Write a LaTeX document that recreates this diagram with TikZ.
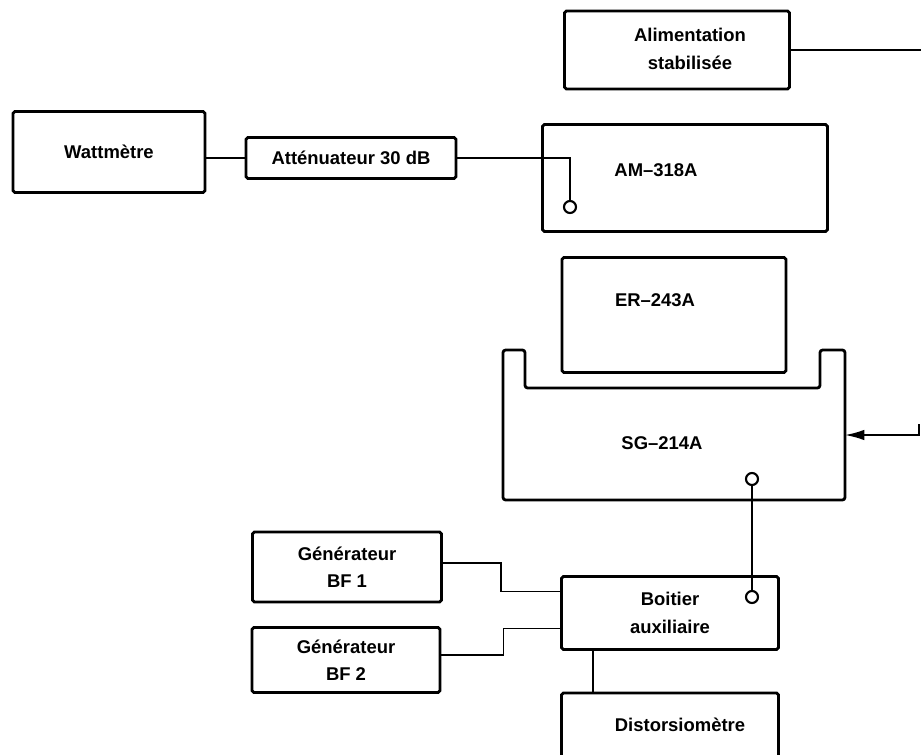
\documentclass[tikz,border=0pt]{standalone}
\usepackage{fontspec}
\setmainfont{Liberation Sans}
\usetikzlibrary{arrows.meta,positioning}

\tikzset{
  bloc/.style={draw, line width=1.6pt, rounded corners=1pt, align=center, inner sep=0pt,
    font=\bfseries\fontsize{10.5}{15.5}\selectfont},
  texte/.style={align=center, font=\bfseries\fontsize{10.5}{15.5}\selectfont},
  liaison/.style={line width=1pt},
  prise/.style={circle, draw, line width=1.2pt, minimum size=0.24cm, inner sep=0pt},
}

\begin{document}
\begin{tikzpicture}[x=0.02cm, y=-0.02cm]
\clip (0,0) rectangle (921,755);
\fill[white] (0,0) rectangle (921,755);

% Appareils
\node[bloc, minimum width=4.5cm, minimum height=1.56cm] (alim) at (677,50) {};
\node[texte] (alimtxt) at (690,49) {Alimentation\\stabilisée};
\node[bloc, minimum width=3.84cm, minimum height=1.62cm] (watt) at (109,152) {Wattmètre};
\node[bloc, minimum width=4.2cm, minimum height=0.82cm] (att) at (351,158) {Atténuateur 30 dB};
\node[bloc, minimum width=5.7cm, minimum height=2.14cm] (am) at (685,178) {};
\node[texte] (amtxt) at (656,170) {AM--318A};
\node[bloc, minimum width=4.48cm, minimum height=2.3cm] (er) at (674,315) {};
\node[texte] (ertxt) at (655,300) {ER--243A};

% SG-214A avec son logement
\draw[line width=1.6pt, line join=round, rounded corners=1.5pt] (503,500) -- (503,350) -- (525,350) -- (525,388)
  -- (820,388) -- (820,350) -- (845,350) -- (845,500) -- cycle;
\node[texte] (sgtxt) at (662,443) {SG--214A};
\coordinate (sgE) at (845,435);
\coordinate (sgin) at (919,424);

\node[bloc, minimum width=3.78cm, minimum height=1.4cm] (bf1) at (347,567) {Générateur\\BF 1};
\node[bloc, minimum width=3.76cm, minimum height=1.3cm] (bf2) at (346,660) {Générateur\\BF 2};
\node[bloc, minimum width=4.34cm, minimum height=1.46cm] (boit) at (670,613) {Boitier\\auxiliaire};
\node[bloc, minimum width=4.34cm, minimum height=1.4cm] (dist) at (670,728) {};
\node[texte] (disttxt) at (680,725) {Distorsiomètre};

% Prises
\node[prise] (pam) at (570,207) {};
\node[prise] (psg) at (752,479) {};
\node[prise] (pboit) at (752,597) {};

% Liaisons
\coordinate (alimfin) at (921,50);
\draw[liaison] (alim.east) -- (alimfin);
\draw[liaison] (watt.east |- att.west) -- (att.west);
\draw[liaison] (att.east) -| (pam.north);
\draw[liaison, -{Latex[length=11pt, width=6pt]}] (sgin) |- (sgE);
\draw[liaison] (psg) -- (pboit);
\draw[liaison] ([yshift=0.08cm]bf1.east) -- ++(58,0) |- ([yshift=0.43cm]boit.west);
\draw[liaison] ([yshift=0.1cm]bf2.east) -- ++(62,0) |- ([yshift=-0.31cm]boit.west);
\coordinate (k) at (593,0);
\draw[liaison] (boit.south -| k) -- (dist.north -| k);
\end{tikzpicture}
\end{document}
